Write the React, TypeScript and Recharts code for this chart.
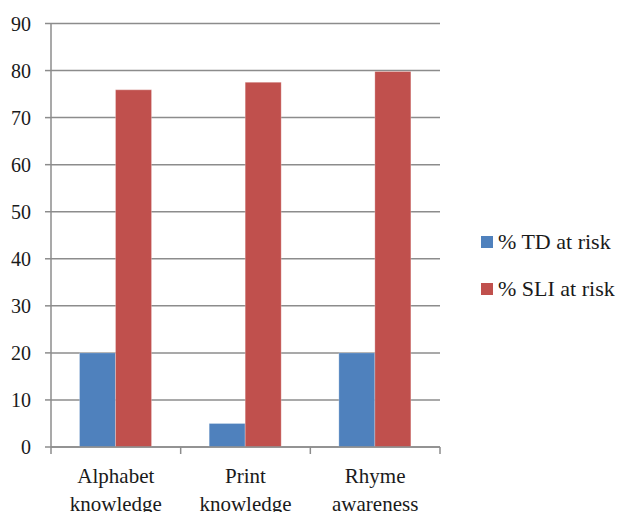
import React from "react";
import { BarChart, Bar, XAxis, YAxis, CartesianGrid, Legend } from "recharts";

const categories = ["Alphabet knowledge", "Print knowledge", "Rhyme awareness"];
const tdAtRisk = [20, 5, 20];
const sliAtRisk = [75.9, 77.5, 79.8];
const yTicks = [0, 10, 20, 30, 40, 50, 60, 70, 80, 90];

const SERIES = [
  { key: "td", label: "% TD at risk", color: "#4F81BD" },
  { key: "sli", label: "% SLI at risk", color: "#C0504D" },
];

const FONT = "Liberation Serif, DejaVu Serif, serif";
const GRID = "#8c8c8c";

const data = categories.map((name, i) => ({
  name,
  td: tdAtRisk[i],
  sli: sliAtRisk[i],
}));

// two-line category label plus the tick marks on the category boundaries
const CategoryTick = (props: any) => {
  const { x, y, payload, index } = props;
  const off = payload?.offset ?? 65;
  const words = String(payload.value).split(" ");
  return (
    <g>
      <line x1={x - off} y1={y} x2={x - off} y2={y + 7} stroke={GRID} strokeWidth={1.5} />
      {index === categories.length - 1 && (
        <line x1={x + off} y1={y} x2={x + off} y2={y + 7} stroke={GRID} strokeWidth={1.5} />
      )}
      <text x={x} y={y} textAnchor="middle" fill="#1a1a1a" style={{ fontFamily: FONT }} fontSize={21}>
        {words.map((w, i) => (
          <tspan key={w} x={x} dy={i === 0 ? 36 : 28}>
            {w}
          </tspan>
        ))}
      </text>
    </g>
  );
};

const LegendBox = () => (
  <div style={{ paddingLeft: 41, fontFamily: FONT, fontSize: 22, color: "#1a1a1a" }}>
    {SERIES.map((s) => (
      <div key={s.key} style={{ display: "flex", alignItems: "center", height: 47 }}>
        <span style={{ width: 12, height: 12, background: s.color, marginRight: 5, display: "inline-block" }} />
        <span>{s.label}</span>
      </div>
    ))}
  </div>
);

export default function App() {
  return (
    <div style={{ position: "absolute", left: 0, top: 0, width: 624, height: 512, background: "#fff", fontFamily: FONT }}>
      <BarChart
        width={624}
        height={512}
        data={data}
        margin={{ top: 23.5, right: 0, left: 0, bottom: 0 }}
        barCategoryGap="22%"
        barGap={0}
        style={{ fontFamily: FONT }}
      >
        <CartesianGrid vertical={false} stroke={GRID} strokeWidth={1.5} />
        <XAxis
          dataKey="name"
          height={65}
          interval={0}
          tickLine={false}
          tickSize={0}
          tickMargin={0}
          axisLine={{ stroke: GRID, strokeWidth: 1.5 }}
          tick={<CategoryTick />}
        />
        <YAxis
          width={51}
          domain={[0, 90]}
          ticks={yTicks}
          interval={0}
          tickSize={6}
          tickMargin={14}
          tickLine={{ stroke: GRID, strokeWidth: 1.5 }}
          axisLine={{ stroke: GRID, strokeWidth: 1.5 }}
          tick={{ fill: "#1a1a1a", fontFamily: FONT, fontSize: 20 }}
        />
        <Legend
          layout="vertical"
          align="right"
          verticalAlign="middle"
          width={184}
          wrapperStyle={{ top: 218, width: 184 }}
          content={<LegendBox />}
        />
        {SERIES.map((s) => (
          <Bar
            key={s.key}
            dataKey={s.key}
            name={s.label}
            fill={s.color}
            stroke="rgba(255,255,255,0.5)"
            strokeWidth={0.5}
            isAnimationActive={false}
          />
        ))}
      </BarChart>
    </div>
  );
}
